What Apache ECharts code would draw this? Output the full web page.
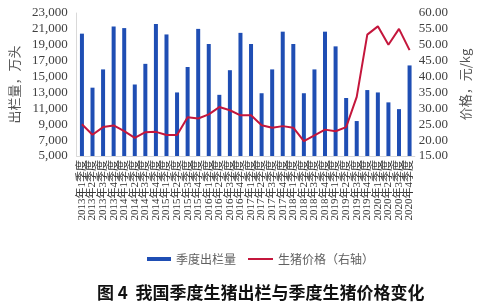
<!DOCTYPE html>
<html>
<head>
<meta charset="utf-8">
<script src="https://cdn.jsdelivr.net/npm/echarts@6/dist/echarts.min.js"></script>
<style>
  html, body { margin: 0; padding: 0; background: #fff; }
  #chart { width: 480px; height: 305px; }
</style>
</head>
<body>
<div id="chart"></div>
<script>
// Quarters 2013Q1 .. 2020Q4
const years = ['2013', '2014', '2015', '2016', '2017', '2018', '2019', '2020'];
const quarters = ['1', '2', '3', '4'];
const categories = [];
years.forEach(function (y) {
  quarters.forEach(function (q) { categories.push(y + '年' + q + '季度'); });
});

// Quarterly slaughter (万头), left axis
const slaughter = [
  20400, 13600, 15900, 21300,
  21100, 14000, 16600, 21600,
  20300, 13000, 16200, 21000,
  19100, 12700, 15800, 20500,
  19100, 12900, 15900, 20650,
  19100, 12900, 15900, 20650,
  18800, 12300, 9400, 13300,
  13000, 11750, 10900, 16400
];

// Hog price (元/kg), right axis
const price = [
  25.0, 21.7, 24.1, 24.6,
  22.8, 20.7, 22.5, 22.6,
  21.6, 21.6, 27.2, 26.8,
  28.1, 30.4, 29.4, 27.8,
  27.8, 24.7, 23.9, 24.4,
  23.9, 19.7, 21.5, 23.3,
  22.8, 24.1, 33.6, 53.2,
  55.8, 50.0, 55.0, 48.3
];

const leftTicks = { min: 5000, max: 23000, interval: 2000 };
const rightTicks = { min: 15, max: 60, interval: 5 };

const serif = "'Liberation Serif', 'Noto Sans CJK SC', serif";
const cjk = "'Noto Sans CJK SC', 'Liberation Serif', sans-serif";
const legendText = { fontFamily: cjk, fontSize: 12, color: '#606060' };

const chart = echarts.init(document.getElementById('chart'), null, { renderer: 'canvas' });
chart.setOption({
  animation: false,
  backgroundColor: '#ffffff',
  title: {
    text: '图 4  我国季度生猪出栏与季度生猪价格变化',
    left: 92,
    top: 279,
    textStyle: { fontFamily: cjk, fontSize: 17, fontWeight: 'bold', color: '#111' }
  },
  // Two legends so each key gets its own icon thickness
  legend: [
    {
      data: ['季度出栏量'],
      left: 142,
      top: 248,
      icon: 'rect',
      itemWidth: 24,
      itemHeight: 4,
      textStyle: legendText
    },
    {
      data: ['生猪价格（右轴）'],
      left: 243,
      top: 248,
      icon: 'rect',
      itemWidth: 25,
      itemHeight: 2,
      textStyle: legendText
    }
  ],
  grid: { left: 73, right: 55, top: 13, bottom: 149, containLabel: false },
  xAxis: {
    type: 'category',
    data: categories,
    boundaryGap: true,
    axisLine: { show: true, lineStyle: { color: '#d9d9d9', width: 1 } },
    axisTick: { show: false },
    axisLabel: {
      interval: 0,
      rotate: 90,
      margin: 4,
      fontFamily: serif,
      fontSize: 11,
      color: '#333'
    },
    splitLine: { show: false }
  },
  yAxis: [
    {
      type: 'value',
      min: leftTicks.min,
      max: leftTicks.max,
      interval: leftTicks.interval,
      name: '出栏量，万头',
      nameLocation: 'middle',
      nameGap: 53,
      nameTextStyle: { fontFamily: cjk, fontSize: 13, color: '#555' },
      axisLine: { show: true, lineStyle: { color: '#d9d9d9' } },
      axisTick: { show: false },
      axisLabel: { margin: 9, fontFamily: serif, fontSize: 13, color: '#404040' },
      splitLine: { show: false }
    },
    {
      type: 'value',
      min: rightTicks.min,
      max: rightTicks.max,
      interval: rightTicks.interval,
      name: '价格，元/kg',
      nameLocation: 'middle',
      nameRotate: 90,
      nameGap: 34,
      nameTextStyle: { fontFamily: cjk, fontSize: 13, color: '#555' },
      axisLine: { show: false },
      axisTick: { show: false },
      axisLabel: {
        margin: 4,
        fontFamily: serif,
        fontSize: 13,
        color: '#404040',
        formatter: function (v) { return v.toFixed(2); }
      },
      splitLine: { show: false }
    }
  ],
  series: [
    {
      name: '季度出栏量',
      type: 'bar',
      yAxisIndex: 0,
      data: slaughter,
      barWidth: 4,
      itemStyle: { color: '#1f4eb4' }
    },
    {
      name: '生猪价格（右轴）',
      type: 'line',
      yAxisIndex: 1,
      data: price,
      symbol: 'none',
      smooth: false,
      lineStyle: { color: '#c4163c', width: 2 },
      itemStyle: { color: '#c4163c' }
    }
  ]
});
</script>
</body>
</html>
